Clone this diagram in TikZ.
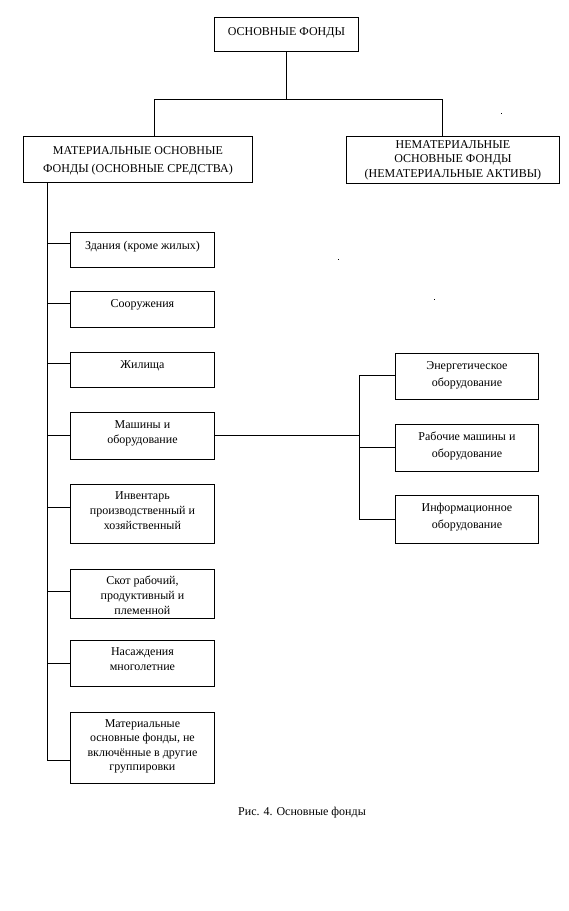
\documentclass[tikz,border=0pt]{standalone}
\usepackage{fontspec}
\setmainfont{Liberation Serif}
\newcommand{\bxt}[5]{\parbox[t][#2pt][t]{#1pt}{\centering\fontsize{12}{#4}\selectfont\rule{0pt}{#3pt}#5\par}}
\begin{document}
\begin{tikzpicture}[x=1pt,y=-1pt,
  box/.style={draw,line width=0.9pt,inner sep=0pt,anchor=north west},
  conn/.style={line width=0.9pt}]
\useasboundingbox (0,0) rectangle (569,911);
% top
\node[box] (top) at (214,17) {\bxt{144}{34}{18}{15}{ОСНОВНЫЕ ФОНДЫ}};
\node[box] (mat) at (23,136) {\bxt{229}{46}{18}{18}{МАТЕРИАЛЬНЫЕ ОСНОВНЫЕ\\ФОНДЫ (ОСНОВНЫЕ СРЕДСТВА)}};
\node[box] (nem) at (346,136) {\bxt{213}{47}{12}{14.5}{НЕМАТЕРИАЛЬНЫЕ\\ОСНОВНЫЕ ФОНДЫ\\(НЕМАТЕРИАЛЬНЫЕ АКТИВЫ)}};
% left column
\node[box] (b1) at (70,232) {\bxt{144}{35}{17}{15}{Здания (кроме жилых)}};
\node[box] (b2) at (70,291) {\bxt{144}{36}{16}{15}{Сооружения}};
\node[box] (b3) at (70,352) {\bxt{144}{35}{16}{15}{Жилища}};
\node[box] (b4) at (70,412) {\bxt{144}{47}{16}{15}{Машины и\\оборудование}};
\node[box] (b5) at (70,484) {\bxt{144}{59}{15}{15}{Инвентарь\\производственный и\\хозяйственный}};
\node[box] (b6) at (70,569) {\bxt{144}{49}{15}{15}{Скот рабочий,\\продуктивный и\\племенной}};
\node[box] (b7) at (70,640) {\bxt{144}{46}{15}{15}{Насаждения\\многолетние}};
\node[box] (b8) at (70,712) {\bxt{144}{71}{15}{14.5}{Материальные\\основные фонды, не\\включённые в другие\\группировки}};
% right column
\node[box] (r1) at (395,353) {\bxt{143}{46}{16}{17}{Энергетическое\\оборудование}};
\node[box] (r2) at (395,424) {\bxt{143}{47}{16}{17}{Рабочие машины и\\оборудование}};
\node[box] (r3) at (395,495) {\bxt{143}{48}{16}{17}{Информационное\\оборудование}};
% caption
\node[inner sep=0pt,anchor=base,font=\fontsize{12}{14}\selectfont] (cap) at (302,815) {Рис. 4. Основные фонды};
% connector coordinates
\coordinate (hl) at (0,99);
\coordinate (mx) at (154,0);
\coordinate (nx) at (442,0);
\coordinate (tx) at (47,0);
\coordinate (tend) at (47,760);
\coordinate (rx) at (359,0);
% top connectors
\draw[conn] (top.south) -- (top.south |- hl);
\draw[conn] (mat.north -| mx) |- (hl -| nx) -- (nem.north -| nx);
% trunk
\draw[conn] (mat.south -| tx) -- (tend);
\draw[conn] (tx |- 0,243) -- (b1.west |- 0,243);
\draw[conn] (tx |- 0,303) -- (b2.west |- 0,303);
\draw[conn] (tx |- 0,363) -- (b3.west |- 0,363);
\draw[conn] (tx |- 0,435) -- (b4.west |- 0,435);
\draw[conn] (tx |- 0,507) -- (b5.west |- 0,507);
\draw[conn] (tx |- 0,591) -- (b6.west |- 0,591);
\draw[conn] (tx |- 0,663) -- (b7.west |- 0,663);
\draw[conn] (tend) -- (b8.west |- tend);
% machines branch
\draw[conn] (b4.east |- 0,435) -- (rx |- 0,435);
\draw[conn] (r1.west |- 0,375) -| (rx |- 0,519) -- (r3.west |- 0,519);
\draw[conn] (rx |- 0,447) -- (r2.west |- 0,447);
% stray dots
\fill (500.5,112.5) rectangle ++(1,1);
\fill (337.5,258.5) rectangle ++(1,1);
\fill (433.5,298.5) rectangle ++(1,1);
\end{tikzpicture}
\end{document}
